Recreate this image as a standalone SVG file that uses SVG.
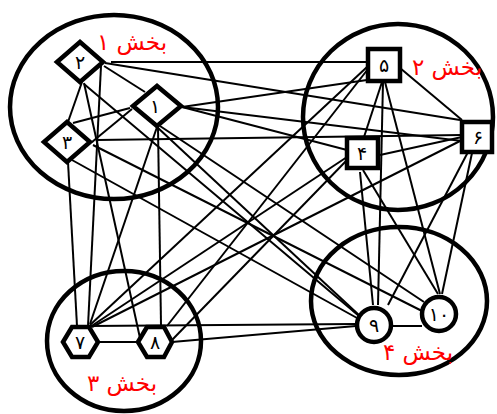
<svg xmlns="http://www.w3.org/2000/svg" width="497" height="414" viewBox="0 0 497 414">
<style>
.cl{fill:none;stroke:#000;stroke-width:4.5}
.e{stroke:#000;stroke-width:2;fill:none}
.n{fill:#fff;stroke:#000;stroke-width:4.5;stroke-linejoin:miter}
.t{font-family:"DejaVu Sans",sans-serif;font-size:19px;fill:#000;text-anchor:middle}
.lb{font-family:"DejaVu Sans",sans-serif;font-size:23px;fill:#ff0000;text-anchor:middle}
</style>
<rect width="497" height="414" fill="#fff"/>
<g id="clusters">
<ellipse class="cl" cx="114" cy="107" rx="104" ry="92"/>
<ellipse class="cl" cx="398" cy="117" rx="95" ry="93"/>
<ellipse class="cl" cx="124" cy="341" rx="77" ry="70"/>
<ellipse class="cl" cx="399" cy="301" rx="88" ry="74"/>
</g>
<g id="connectors">
<line class="e" x1="111" y1="62" x2="368" y2="62"/>
<line class="e" x1="105" y1="63" x2="460" y2="120"/>
<line class="e" x1="104" y1="66" x2="145" y2="92"/>
<line class="e" x1="82" y1="82" x2="68" y2="122"/>
<line class="e" x1="101" y1="66" x2="88" y2="326"/>
<line class="e" x1="84" y1="83" x2="140" y2="338"/>
<line class="e" x1="84" y1="84" x2="359" y2="316"/>
<line class="e" x1="182" y1="107" x2="367" y2="80"/>
<line class="e" x1="182" y1="107" x2="462" y2="141"/>
<line class="e" x1="182" y1="107" x2="347" y2="150"/>
<line class="e" x1="130" y1="108" x2="73" y2="123"/>
<line class="e" x1="132" y1="109" x2="92" y2="142"/>
<line class="e" x1="97" y1="140" x2="462" y2="135"/>
<line class="e" x1="157" y1="127" x2="90" y2="324"/>
<line class="e" x1="158" y1="127" x2="161" y2="325"/>
<line class="e" x1="157" y1="127" x2="360" y2="316"/>
<line class="e" x1="160" y1="126" x2="424" y2="302"/>
<line class="e" x1="72" y1="160" x2="357" y2="318"/>
<line class="e" x1="93" y1="145" x2="422" y2="311"/>
<line class="e" x1="68" y1="162" x2="77" y2="326"/>
<line class="e" x1="382" y1="82" x2="364" y2="137"/>
<line class="e" x1="400" y1="68" x2="462" y2="120"/>
<line class="e" x1="383" y1="82" x2="378" y2="305"/>
<line class="e" x1="385" y1="82" x2="440" y2="294"/>
<line class="e" x1="367" y1="67" x2="90" y2="325"/>
<line class="e" x1="368" y1="69" x2="167" y2="326"/>
<line class="e" x1="380" y1="155" x2="462" y2="137"/>
<line class="e" x1="360" y1="172" x2="373" y2="305"/>
<line class="e" x1="363" y1="170" x2="438" y2="294"/>
<line class="e" x1="347" y1="157" x2="90" y2="327"/>
<line class="e" x1="347" y1="160" x2="172" y2="340"/>
<line class="e" x1="462" y1="140" x2="92" y2="327"/>
<line class="e" x1="468" y1="152" x2="388" y2="305"/>
<line class="e" x1="472" y1="153" x2="442" y2="294"/>
<line class="e" x1="98" y1="342" x2="138" y2="342"/>
<line class="e" x1="90" y1="326" x2="356" y2="324"/>
<line class="e" x1="172" y1="342" x2="356" y2="326"/>
<line class="e" x1="393" y1="326" x2="422" y2="326"/>
</g>
<g id="node2"><polygon class="n" points="57,62 80,42 103,62 80,82"/><text class="t" x="80" y="69">۲</text></g>
<g id="node1"><polygon class="n" points="133,106 157,86 181,106 157,126"/><text class="t" x="155" y="113">۱</text></g>
<g id="node3"><polygon class="n" points="44,142 67,122 90,142 67,162"/><text class="t" x="67" y="149">۳</text></g>
<g id="node5"><rect class="n" x="368" y="49" width="32" height="32"/><text class="t" x="384" y="72">۵</text></g>
<g id="node6"><rect class="n" x="462" y="122" width="30" height="30"/><text class="t" x="478" y="144">۶</text></g>
<g id="node4"><rect class="n" x="347" y="138" width="31" height="30"/><text class="t" x="362" y="160">۴</text></g>
<g id="node7"><polygon class="n" points="63,342 72,327 89,327 98,342 89,357 72,357"/><text class="t" x="80" y="349">۷</text></g>
<g id="node8"><polygon class="n" points="138,342 147,327 164,327 172,342 164,357 147,357"/><text class="t" x="155" y="349">۸</text></g>
<g id="node9"><circle class="n" cx="374" cy="325" r="17"/><text class="t" x="374" y="332">۹</text></g>
<g id="node10"><circle class="n" cx="439" cy="314" r="17"/><text class="t" x="439" y="321">۱۰</text></g>
<g id="labels">
<text class="lb" x="132" y="50">بخش ۱</text>
<text class="lb" x="447" y="75">بخش ۲</text>
<text class="lb" x="122" y="391">بخش ۳</text>
<text class="lb" x="418" y="360">بخش ۴</text>
</g>
</svg>
